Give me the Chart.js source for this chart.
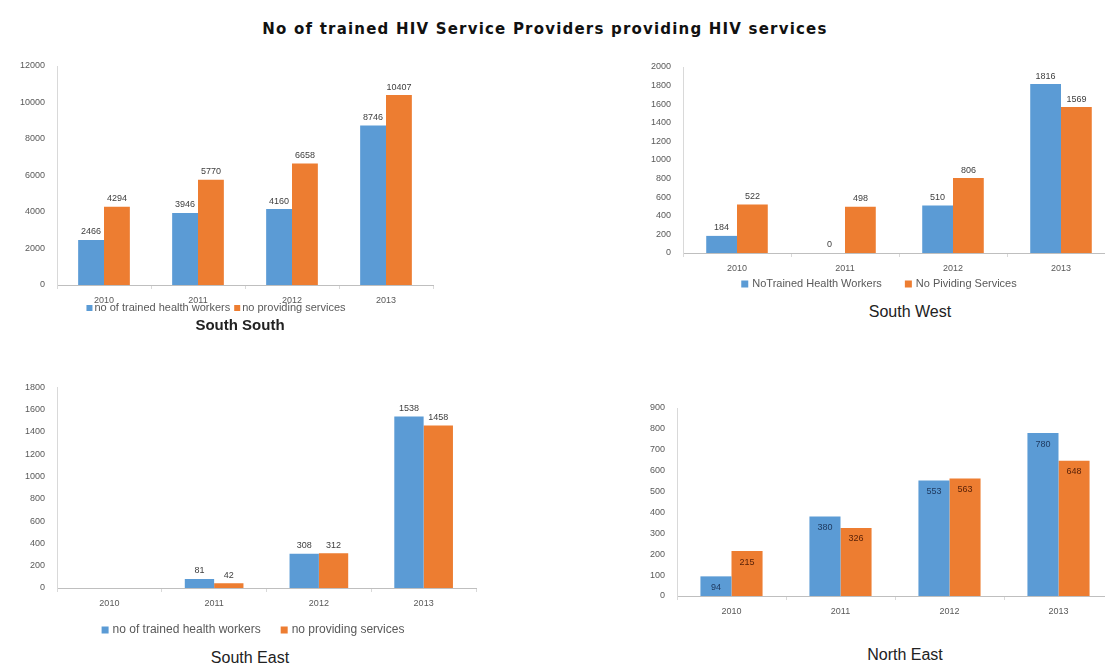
<!DOCTYPE html>
<html lang="en">
<head>
<meta charset="UTF-8">
<title>No of trained HIV Service Providers providing HIV services</title>
<script src="https://cdn.jsdelivr.net/npm/chart.js"></script>
<style>
    body {
        margin: 0;
        width: 1105px;
        height: 665px;
        overflow: hidden;
        background: #ffffff;
        position: relative;
        font-family: 'Liberation Sans', Arial, sans-serif;
    }
    .box { position: absolute; }
    .title {
        position: absolute;
        left: 0; width: 1090px; top: 20px;
        text-align: center;
        font-family: 'DejaVu Sans', sans-serif;
        font-weight: bold;
        font-size: 15px;
        letter-spacing: 1.2px;
        color: #111;
    }
    .sub {
        position: absolute;
        transform: translate(-50%, -50%);
        font-size: 16px;
        color: #222;
        white-space: nowrap;
    }
</style>
</head>
<body>
<div class="title">No of trained HIV Service Providers providing HIV services</div>

<div class="box" id="ssBox"><canvas id="ss"></canvas></div>
<div class="box" id="swBox"><canvas id="sw"></canvas></div>
<div class="box" id="seBox"><canvas id="se"></canvas></div>
<div class="box" id="neBox"><canvas id="ne"></canvas></div>

<div class="sub" style="left:240px;top:324px;font-weight:bold;font-size:15px;">South South</div>
<div class="sub" style="left:910px;top:312px;">South West</div>
<div class="sub" style="left:250px;top:658px;">South East</div>
<div class="sub" style="left:905px;top:655px;">North East</div>

<script>
// data
const years = ['2010', '2011', '2012', '2013'];

const ssTrained = [2466, 3946, 4160, 8746];
const ssProviding = [4294, 5770, 6658, 10407];
const ssTicks = [0, 2000, 4000, 6000, 8000, 10000, 12000];

const swTrained = [184, 0, 510, 1816];
const swProviding = [522, 498, 806, 1569];
const swTicks = [0, 200, 400, 600, 800, 1000, 1200, 1400, 1600, 1800, 2000];

const seTrained = [null, 81, 308, 1538];
const seProviding = [null, 42, 312, 1458];
const seTicks = [0, 200, 400, 600, 800, 1000, 1200, 1400, 1600, 1800];

const neTrained = [94, 380, 553, 780];
const neProviding = [215, 326, 563, 648];
const neTicks = [0, 100, 200, 300, 400, 500, 600, 700, 800, 900];

const BLUE = '#5B9BD5';
const ORANGE = '#ED7D31';
const FONT = '"Liberation Sans", Arial, sans-serif';

// value labels on the bars
const barLabels = {
    id: 'barLabels',
    afterDatasetsDraw(chart, args, opts) {
        const ctx = chart.ctx;
        ctx.save();
        ctx.font = '9px ' + FONT;
        ctx.textAlign = 'center';
        ctx.textBaseline = 'middle';
        chart.data.datasets.forEach((ds, i) => {
            chart.getDatasetMeta(i).data.forEach((bar, j) => {
                const v = ds.data[j];
                if (v === null || v === undefined) return;
                ctx.fillStyle = opts.inside ? (i === 0 ? '#1f3a60' : '#5a2208') : '#404040';
                const y = opts.inside ? bar.y + 11 : bar.y - 8;
                ctx.fillText(String(v), bar.x, y);
            });
        });
        ctx.restore();
    }
};

// small legend under the axis, placed like the original office chart
const bottomLegend = {
    id: 'bottomLegend',
    afterDraw(chart, args, opts) {
        if (!opts.show) return;
        const ctx = chart.ctx;
        const items = chart.data.datasets.map(d => ({ text: d.label, color: d.backgroundColor }));
        ctx.save();
        ctx.font = opts.size + 'px ' + FONT;
        ctx.textBaseline = 'middle';
        const widths = items.map(it => opts.box + opts.space + ctx.measureText(it.text).width);
        const total = widths.reduce((a, b) => a + b, 0) + opts.gap * (items.length - 1);
        let x = opts.cx - total / 2;
        items.forEach((it, k) => {
            ctx.fillStyle = it.color;
            ctx.fillRect(x, opts.y - opts.box / 2, opts.box, opts.box);
            ctx.fillStyle = '#595959';
            ctx.fillText(it.text, x + opts.box + opts.space, opts.y);
            x += widths[k] + opts.gap;
        });
        ctx.restore();
    }
};

function makeChart(id, c) {
    const box = document.getElementById(id + 'Box');
    box.style.left = c.left + 'px';
    box.style.top = c.top + 'px';
    box.style.width = c.width + 'px';
    box.style.height = c.height + 'px';

    const ticks = c.ticks;
    const leg = c.legend || { show: false };
    new Chart(document.getElementById(id), {
        type: 'bar',
        data: {
            labels: years,
            datasets: [
                { label: c.names[0], data: c.trained, backgroundColor: BLUE },
                { label: c.names[1], data: c.providing, backgroundColor: ORANGE }
            ]
        },
        options: {
            responsive: true,
            maintainAspectRatio: false,
            animation: false,
            datasets: { bar: { barPercentage: 1, categoryPercentage: c.catPct } },
            layout: { padding: { top: c.plotTop - c.top, right: c.left + c.width - c.plotRight, left: 0, bottom: 0 } },
            plugins: {
                legend: { display: false },
                tooltip: { enabled: false },
                barLabels: { inside: !!c.inside },
                bottomLegend: {
                    show: leg.show !== false,
                    cx: leg.cx - c.left, y: leg.y - c.top,
                    size: leg.size, box: leg.box, space: leg.space, gap: leg.gap
                }
            },
            scales: {
                x: {
                    grid: { offset: true, drawOnChartArea: false, drawTicks: true, tickLength: 4, color: '#d9d9d9' },
                    border: { color: '#bfbfbf' },
                    ticks: { color: '#595959', padding: 6, font: { size: 9, family: FONT } },
                    afterFit(s) { s.height = c.top + c.height - c.plotBottom; }
                },
                y: {
                    min: ticks[0],
                    max: ticks[ticks.length - 1],
                    grid: { display: false },
                    border: { display: true, color: '#d9d9d9' },
                    ticks: {
                        stepSize: ticks[1] - ticks[0],
                        color: '#595959',
                        padding: 4,
                        font: { size: 9, family: FONT },
                        callback: v => String(v)
                    },
                    afterFit(s) { s.width = c.plotLeft - c.left; }
                }
            }
        },
        plugins: [barLabels, bottomLegend]
    });
}

makeChart('ss', {
    left: 0, top: 50, width: 440, height: 270,
    plotLeft: 57, plotRight: 433, plotTop: 66, plotBottom: 285,
    catPct: 0.55, ticks: ssTicks,
    names: ['no of trained health workers', 'no providing services'],
    legend: { cx: 216, y: 308, size: 11, box: 6, space: 2, gap: 4 },
    trained: ssTrained, providing: ssProviding
});

makeChart('sw', {
    left: 625, top: 52, width: 508, height: 242,
    plotLeft: 683, plotRight: 1115, plotTop: 67, plotBottom: 253,
    catPct: 0.57, ticks: swTicks,
    names: ['NoTrained Health Workers', 'No Pividing Services'],
    legend: { cx: 879, y: 284, size: 11, box: 7, space: 4, gap: 23 },
    trained: swTrained, providing: swProviding
});

makeChart('se', {
    left: 0, top: 378, width: 504, height: 262,
    plotLeft: 57, plotRight: 476, plotTop: 383, plotBottom: 588,
    catPct: 0.56, ticks: seTicks,
    names: ['no of trained health workers', 'no providing services'],
    legend: { cx: 253, y: 630, size: 12, box: 7, space: 4, gap: 20 },
    trained: seTrained, providing: seProviding
});

makeChart('ne', {
    left: 625, top: 395, width: 495, height: 230,
    plotLeft: 677, plotRight: 1113, plotTop: 408, plotBottom: 596,
    catPct: 0.57, ticks: neTicks, inside: true,
    names: ['no of trained health workers', 'no providing services'],
    trained: neTrained, providing: neProviding
});
</script>
</body>
</html>
